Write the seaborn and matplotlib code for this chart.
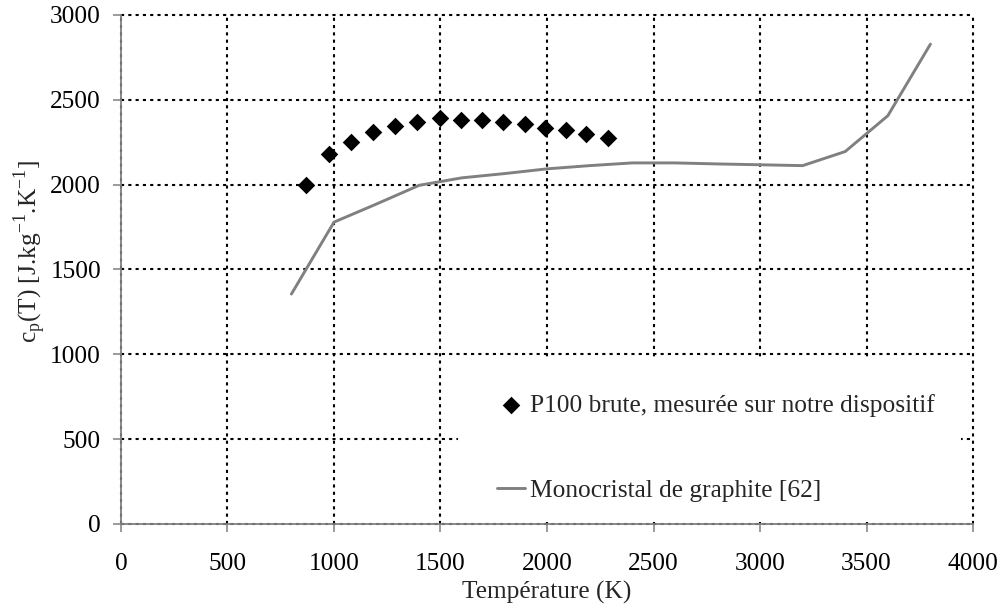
import pandas as pd
import matplotlib.pyplot as plt
import seaborn as sns
from matplotlib.patches import Rectangle

# Measured P100 (diamonds)
temp_p100 = [870, 975, 1080, 1185, 1285, 1390, 1500, 1595, 1695, 1795, 1895, 1990, 2090, 2185, 2285]
cp_p100 = [2000, 2182, 2253, 2310, 2345, 2369, 2395, 2381, 2381, 2369, 2357, 2333, 2321, 2296, 2272]

# Graphite single crystal [62] (line)
temp_graph = [800, 1000, 1200, 1400, 1600, 1800, 2000, 2200, 2400, 2600, 2800, 3000, 3200, 3400, 3600, 3800]
cp_graph = [1355, 1779, 1886, 1996, 2040, 2065, 2093, 2112, 2128, 2128, 2122, 2117, 2112, 2195, 2406, 2828]

label_p100 = 'P100 brute, mesurée sur notre dispositif'
label_graph = 'Monocristal de graphite [62]'

df_p100 = pd.DataFrame({'T': temp_p100, 'cp': cp_p100})
df_graph = pd.DataFrame({'T': temp_graph, 'cp': cp_graph})

sns.set_style("white")
plt.rcParams['font.family'] = ['Liberation Serif', 'DejaVu Serif']
plt.rcParams['mathtext.fontset'] = 'custom'
plt.rcParams['mathtext.rm'] = 'Liberation Serif'
plt.rcParams['axes.unicode_minus'] = False

fs = 18.3
fig = plt.figure(figsize=(9.99, 6.08), dpi=100)
ax = fig.add_axes([0.1211, 0.1382, 0.8529, 0.8372])

sns.lineplot(data=df_graph, x='T', y='cp', ax=ax, color='#808080', linewidth=2.1,
             label=label_graph, zorder=3)
sns.scatterplot(data=df_p100, x='T', y='cp', ax=ax, marker='D', s=80, color='black',
                linewidth=0, label=label_p100, zorder=4)

ax.set_xlim(0, 4000)
ax.set_ylim(0, 3000)
ax.set_xticks(range(0, 4001, 500))
ax.set_yticks(range(0, 3001, 500))

# dotted black grid (not clipped, so the 3000 and 4000 lines show in full)
ax.set_axisbelow(True)
ax.grid(True, color='black', linestyle=(0, (1.5, 2.0)), linewidth=1.5)
for gl in ax.get_xgridlines() + ax.get_ygridlines():
    gl.set_clip_on(False)

# white area behind the legend hides the grid
ax.add_patch(Rectangle((0.3955, 0.004), 0.5905, 0.322, transform=ax.transAxes,
                       facecolor='white', edgecolor='none', zorder=0.8))

for side in ['top', 'right']:
    ax.spines[side].set_visible(False)
for side in ['left', 'bottom']:
    ax.spines[side].set_visible(True)
    ax.spines[side].set_color('#808080')
    ax.spines[side].set_linewidth(1.3)
    ax.spines[side].set_zorder(6)

ax.tick_params(axis='both', direction='out', length=5.8, width=1.1, color='#808080',
               labelsize=fs, labelcolor='black', bottom=True, left=True)
ax.tick_params(axis='x', pad=15)
ax.tick_params(axis='y', pad=8.5)

ax.set_xlabel('Température (K)', fontsize=fs)
ax.set_ylabel('c$_\\mathregular{p}$(T) [J.kg$^\\mathregular{-1}$.K$^\\mathregular{-1}$]', fontsize=fs)
ax.xaxis.set_label_coords(0.5, -0.112)
ax.yaxis.set_label_coords(-0.084, 0.536)

handles, labels = ax.get_legend_handles_labels()
order = [labels.index(label_p100), labels.index(label_graph)]
ax.legend([handles[i] for i in order], [labels[i] for i in order],
          loc='upper left', bbox_to_anchor=(0.4413, 0.256), frameon=False,
          fontsize=fs, handlelength=1.1, handletextpad=0.2, labelspacing=2.45,
          borderpad=0, borderaxespad=0)

plt.savefig('out.png', dpi=100)
